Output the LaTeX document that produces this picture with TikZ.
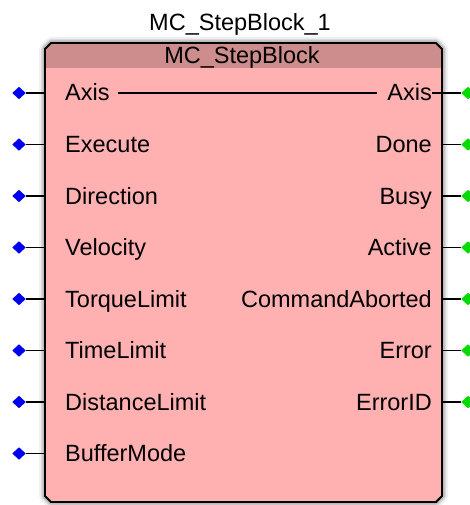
\documentclass[tikz,border=0pt]{standalone}
\usepackage{fontspec}
\setmainfont{Liberation Sans}
\definecolor{bodypink}{RGB}{255,176,176}
\definecolor{headpink}{RGB}{205,141,141}
\definecolor{pinblue}{RGB}{0,0,240}
\definecolor{pingreen}{RGB}{0,220,0}
\tikzset{
  lbl/.style={inner sep=0pt, font=\fontsize{23.5}{24}\selectfont},
  pinbox/.style={inner sep=0pt, minimum width=13pt, minimum height=12pt},
  wire/.style={black, line width=1.2pt},
  shadowline/.style={draw=gray, line join=round},
}
\def\boxpath{(51,43) -- (436,43) -- (442,49) -- (442,496) -- (436,502) -- (51,502) -- (45,496) -- (45,49) -- cycle}
\begin{document}
\begin{tikzpicture}[x=1pt,y=-1pt]
\useasboundingbox (0,0) rectangle (469,505);
% soft shadow
\draw[shadowline, line width=12pt, draw opacity=0.12] \boxpath;
\draw[shadowline, line width=8pt, draw opacity=0.2] \boxpath;
\draw[shadowline, line width=5pt, draw opacity=0.35] \boxpath;
% box body and header
\fill[bodypink] \boxpath;
\begin{scope}
  \clip \boxpath;
  \fill[headpink] (40,40) rectangle (450,68);
\end{scope}
\draw[black, line width=1.8pt, line join=miter] \boxpath;
% titles
\node[lbl, anchor=base] (inst) at (240,31) {MC\_StepBlock\_1};
\node[lbl, anchor=base] (fbname) at (242,64) {MC\_StepBlock};
% inputs
\foreach \name/\txt [count=\i from 0] in {iaxis/Axis,iexec/Execute,idir/Direction,ivel/Velocity,itorq/TorqueLimit,itime/TimeLimit,idist/DistanceLimit,ibuf/BufferMode}{
  \pgfmathsetmacro{\yy}{93+51.5*\i}
  \node[pinbox] (p\name) at (19,\yy) {};
  \fill[pinblue] (p\name.north) -- (p\name.east) -- (p\name.south) -- (p\name.west) -- cycle;
  \coordinate (e\name) at (44,\yy);
  \draw[wire] (p\name.east) -- (e\name);
  \node[lbl, anchor=base west] (\name) at (65,\yy+8) {\txt};
}
% outputs
\foreach \name/\txt [count=\i from 0] in {oaxis/Axis,odone/Done,obusy/Busy,oact/Active,ocab/CommandAborted,oerr/Error,oerrid/ErrorID}{
  \pgfmathsetmacro{\yy}{93+51.5*\i}
  \node[pinbox] (p\name) at (468,\yy) {};
  \fill[pingreen] (p\name.north) -- (p\name.east) -- (p\name.south) -- (p\name.west) -- cycle;
  \coordinate (e\name) at (443,\yy);
  \draw[wire] (e\name) -- (p\name.west);
  \node[lbl, anchor=base east] (\name) at (432,\yy+8) {\txt};
}
\draw[wire] (oaxis.east |- eoaxis) -- (eoaxis);
% through line
\draw[wire] ([xshift=8pt]iaxis.east |- eiaxis) -- ([xshift=-10pt]oaxis.west |- eoaxis);
\end{tikzpicture}
\end{document}
